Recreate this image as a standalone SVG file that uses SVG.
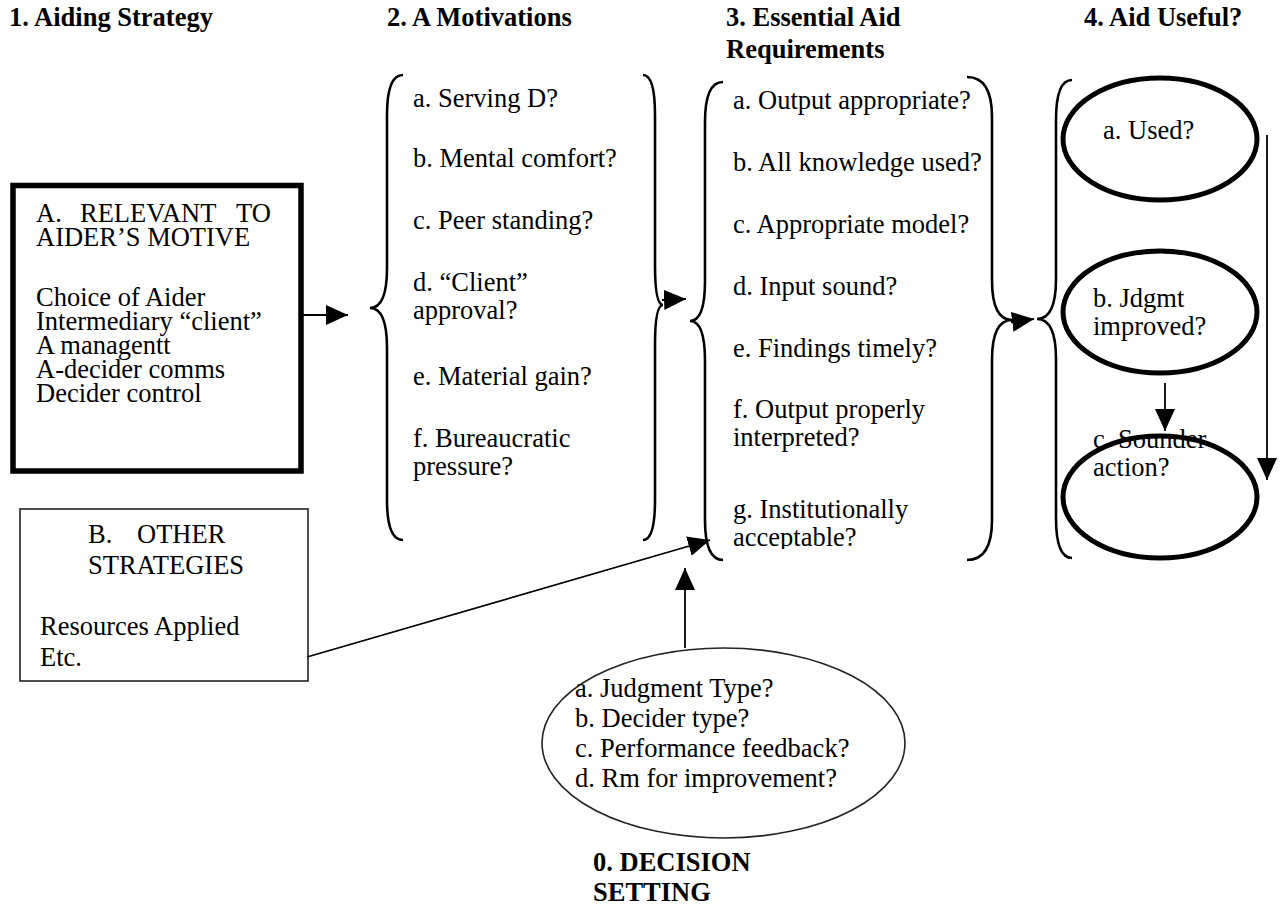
<svg xmlns="http://www.w3.org/2000/svg" width="1283" height="911" viewBox="0 0 1283 911" font-family="'Liberation Serif', 'Times New Roman', Times, 'DejaVu Serif', serif">
<style>
text{font-family:'Liberation Serif','Times New Roman',Times,'DejaVu Serif',serif;font-size:26.5px;fill:#000}
.h{font-weight:bold}
.brace{fill:none;stroke:#000;stroke-width:2.6}
.thick{fill:#fff;stroke:#000;stroke-width:5.5}
.thin{fill:#fff;stroke:#222;stroke-width:1.6}
.oval{fill:#fff;stroke:#000;stroke-width:5}
.line{fill:none;stroke:#000;stroke-width:1.8}
</style>
<defs>
<marker id="ah" viewBox="0 0 22 20" refX="22" refY="10" markerWidth="22" markerHeight="20" markerUnits="userSpaceOnUse" orient="auto">
<path d="M0,0 L22,10 L0,20 z" fill="#000"/>
</marker>
<clipPath id="clipE"><rect x="700" y="60" width="300" height="489"/></clipPath>
</defs>
<rect width="1283" height="911" fill="#fff"/>

<g id="headers">
<text class="h" x="9" y="26">1. Aiding Strategy</text>
<text class="h" x="387" y="26">2. A Motivations</text>
<text class="h" x="726" y="26">3. Essential Aid</text>
<text class="h" x="726" y="58">Requirements</text>
<text class="h" x="1084" y="26">4. Aid Useful?</text>
</g>

<g id="nodeA">
<rect class="thick" x="13" y="185.5" width="288" height="285.5"/>
<text y="222"><tspan x="36">A.</tspan><tspan x="80">RELEVANT</tspan><tspan x="236">TO</tspan></text>
<text x="36" y="246">AIDER’S MOTIVE</text>
<text x="36" y="306">Choice of Aider</text>
<text x="36" y="330">Intermediary “client”</text>
<text x="36" y="354">A managentt</text>
<text x="36" y="378">A-decider comms</text>
<text x="36" y="402">Decider control</text>
</g>

<g id="nodeB">
<rect class="thin" x="20" y="509" width="288" height="172"/>
<text y="543"><tspan x="88">B.</tspan><tspan x="137">OTHER</tspan></text>
<text x="88" y="574">STRATEGIES</text>
<text x="40" y="635">Resources Applied</text>
<text x="40" y="666">Etc.</text>
</g>

<g id="motivations">
<path class="brace" d="M403,75 Q387,75 387,115 L387,268 Q387,308 370,308 Q387,308 387,348 L387,500 Q387,540 403,540"/>
<path class="brace" d="M643,75 Q655,75 655,115 L655,265 Q655,305 663,305 Q655,305 655,345 L655,500 Q655,540 643,540"/>
<text x="413" y="107">a. Serving D?</text>
<text x="413" y="167">b. Mental comfort?</text>
<text x="413" y="229">c. Peer standing?</text>
<text x="413" y="291">d. “Client”</text>
<text x="413" y="319">approval?</text>
<text x="413" y="385">e. Material gain?</text>
<text x="413" y="447">f. Bureaucratic</text>
<text x="413" y="475">pressure?</text>
</g>

<g id="requirements">
<path class="brace" d="M723,82 Q705,82 705,122 L705,281 Q705,321 690,321 Q705,321 705,361 L705,520 Q705,560 723,560"/>
<path class="brace" d="M967,77 Q992,77 992,117 L992,280 Q992,320 1012,320 Q992,320 992,360 L992,520 Q992,560 967,560"/>
<g clip-path="url(#clipE)">
<text x="733" y="109">a. Output appropriate?</text>
<text x="733" y="171">b. All knowledge used?</text>
<text x="733" y="233">c. Appropriate model?</text>
<text x="733" y="295">d. Input sound?</text>
<text x="733" y="357">e. Findings timely?</text>
<text x="733" y="418">f. Output properly</text>
<text x="733" y="446">interpreted?</text>
<text x="733" y="518">g. Institutionally</text>
<text x="733" y="546">acceptable?</text>
</g>
</g>

<g id="useful">
<path class="brace" d="M1072,80 Q1056,80 1056,120 L1056,279 Q1056,319 1037,319 Q1056,319 1056,359 L1056,518 Q1056,558 1072,558"/>
</g>

<g id="used">
<ellipse class="oval" cx="1160" cy="139" rx="97" ry="61"/>
<text x="1103" y="139">a. Used?</text>
</g>
<g id="improved">
<ellipse class="oval" cx="1160" cy="312" rx="97" ry="61"/>
<text x="1093" y="307">b. Jdgmt</text>
<text x="1093" y="335">improved?</text>
</g>
<g id="sounder">
<ellipse class="oval" cx="1160" cy="497" rx="97" ry="61"/>
<text x="1093" y="448">c. Sounder</text>
<text x="1093" y="476">action?</text>
</g>

<g id="setting">
<ellipse class="thin" cx="723.5" cy="743" rx="181.5" ry="95"/>
<text x="575" y="697">a. Judgment Type?</text>
<text x="575" y="727">b. Decider type?</text>
<text x="575" y="757">c. Performance feedback?</text>
<text x="575" y="787">d. Rm for improvement?</text>
<text class="h" x="593" y="871">0. DECISION</text>
<text class="h" x="593" y="901">SETTING</text>
</g>

<g id="connectors">
<line class="line" x1="301" y1="315" x2="348" y2="315" marker-end="url(#ah)"/>
<line class="line" x1="662" y1="300" x2="686" y2="299" marker-end="url(#ah)"/>
<line class="line" x1="1011" y1="322" x2="1034" y2="319" marker-end="url(#ah)"/>
<line class="line" x1="307" y1="657" x2="710" y2="540" marker-end="url(#ah)"/>
<line class="line" x1="685" y1="648" x2="685" y2="568" marker-end="url(#ah)"/>
<line class="line" x1="1165" y1="383" x2="1165" y2="431" marker-end="url(#ah)"/>
<line class="line" x1="1267" y1="135" x2="1267" y2="480" marker-end="url(#ah)"/>
</g>
</svg>
